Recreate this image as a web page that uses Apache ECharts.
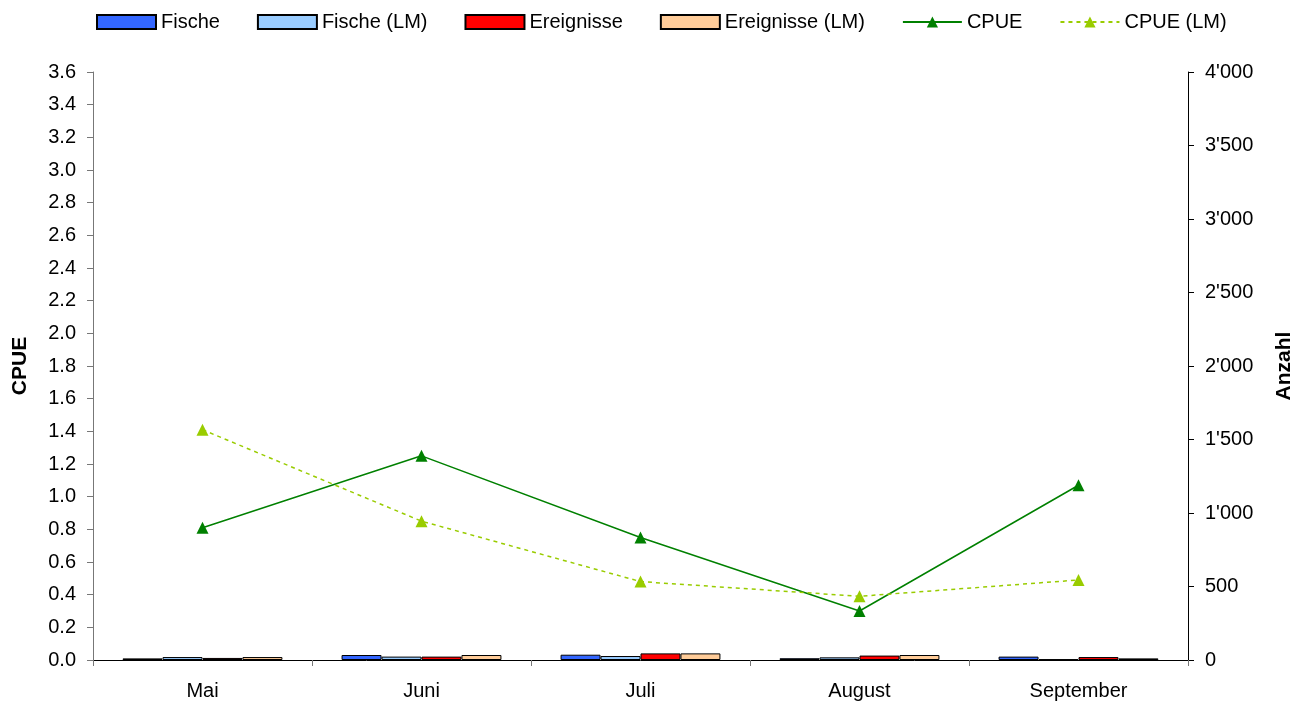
<!DOCTYPE html>
<html>
<head>
<meta charset="utf-8">
<script src="https://cdn.jsdelivr.net/npm/echarts@6/dist/echarts.min.js"></script>
<style>
  html, body { margin: 0; padding: 0; background: #fff; }
  #chart { width: 1308px; height: 704px; }
</style>
</head>
<body>
<div id="chart"></div>
<script>
const months = ['Mai', 'Juni', 'Juli', 'August', 'September'];
const fische = [11, 34, 36, 12, 23];
const fischeLM = [20, 23, 27, 18, 5];
const ereignisse = [14, 23, 45, 30, 20];
const ereignisseLM = [20, 34, 45, 34, 11];
const cpue = [0.81, 1.25, 0.75, 0.30, 1.07];
const cpueLM = [1.41, 0.85, 0.48, 0.39, 0.49];

const chart = echarts.init(document.getElementById('chart'));
const font = 'Liberation Sans, Arial, sans-serif';

function bar(name, data, color) {
  return {
    name: name, type: 'bar', yAxisIndex: 1, data: data,
    barGap: '0%', barCategoryGap: '27%',
    itemStyle: { color: color, borderColor: '#000', borderWidth: 1 }
  };
}

function thousands(v) {
  return String(v).replace(/\B(?=(\d{3})+(?!\d))/g, "'");
}

const option = {
  animation: false,
  textStyle: { fontFamily: font },
  legend: {
    top: 7, left: 91, itemGap: 37,
    itemWidth: 59, itemHeight: 14,
    textStyle: { fontSize: 20, color: '#000', fontFamily: font },
    data: [
      { name: 'Fische', icon: 'rect' },
      { name: 'Fische (LM)', icon: 'rect' },
      { name: 'Ereignisse', icon: 'rect' },
      { name: 'Ereignisse (LM)', icon: 'rect' },
      'CPUE', 'CPUE (LM)'
    ]
  },
  grid: { left: 93, right: 120, top: 72, bottom: 44 },
  xAxis: {
    type: 'category', data: months, boundaryGap: true,
    axisLine: { lineStyle: { color: '#000' } },
    axisTick: { show: true, length: 6, lineStyle: { color: '#777' } },
    axisLabel: { color: '#000', fontSize: 20, margin: 21, fontFamily: font }
  },
  yAxis: [
    {
      type: 'value', min: 0, max: 3.6, interval: 0.2,
      name: 'CPUE', nameLocation: 'middle', nameGap: 62, nameRotate: 90,
      nameTextStyle: { fontSize: 21, fontWeight: 'bold', color: '#000', fontFamily: font },
      axisLine: { show: true, lineStyle: { color: '#777' } },
      axisTick: { show: true, length: 6, lineStyle: { color: '#777' } },
      splitLine: { show: false },
      axisLabel: { color: '#000', fontSize: 20, margin: 17, fontFamily: font,
        formatter: v => v.toFixed(1) }
    },
    {
      type: 'value', min: 0, max: 4000, interval: 500,
      name: 'Anzahl', nameLocation: 'middle', nameGap: 86, nameRotate: 90,
      nameTextStyle: { fontSize: 21, fontWeight: 'bold', color: '#000', fontFamily: font },
      axisLine: { show: true, lineStyle: { color: '#000' } },
      axisTick: { show: true, length: 6, lineStyle: { color: '#000' } },
      splitLine: { show: false },
      axisLabel: { color: '#000', fontSize: 20, margin: 17, fontFamily: font,
        formatter: thousands }
    }
  ],
  series: [
    bar('Fische', fische, '#3366FF'),
    bar('Fische (LM)', fischeLM, '#99CCFF'),
    bar('Ereignisse', ereignisse, '#FF0000'),
    bar('Ereignisse (LM)', ereignisseLM, '#FFCC99'),
    {
      name: 'CPUE', type: 'line', yAxisIndex: 0, data: cpue,
      symbol: 'triangle', symbolSize: 12,
      lineStyle: { color: '#008000', width: 1.5 },
      itemStyle: { color: '#008000' }
    },
    {
      name: 'CPUE (LM)', type: 'line', yAxisIndex: 0, data: cpueLM,
      symbol: 'triangle', symbolSize: 12,
      lineStyle: { color: '#99CC00', width: 1.5, type: [4, 4] },
      itemStyle: { color: '#99CC00' }
    }
  ]
};

chart.setOption(option);
</script>
</body>
</html>
